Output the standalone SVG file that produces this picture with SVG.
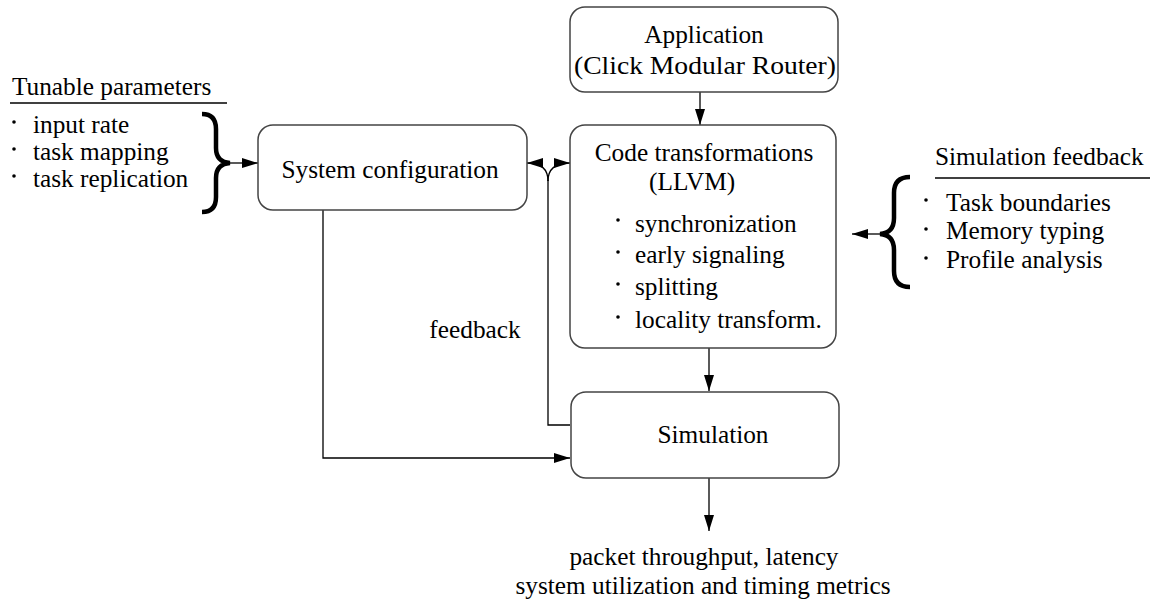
<svg xmlns="http://www.w3.org/2000/svg" width="1158" height="604" viewBox="0 0 1158 604">
<defs>
<style>
.box{fill:#fff;stroke:#444;stroke-width:1.5}
.ln{fill:none;stroke:#000;stroke-width:1.3}
.brace{fill:none;stroke:#000;stroke-width:4.5;stroke-linecap:butt}
.dot{fill:#000}
</style>
<marker id="ah" markerUnits="userSpaceOnUse" markerWidth="18" markerHeight="12" refX="16" refY="5" orient="auto">
<path d="M0,0 L16,5 L0,10 Z" fill="#000"/>
</marker>
</defs>
<rect width="1158" height="604" fill="#fff"/>

<g id="connectors">
<line class="ln" x1="700" y1="92" x2="700" y2="125" marker-end="url(#ah)"/>
<line class="ln" x1="709" y1="348" x2="709" y2="391" marker-end="url(#ah)"/>
<line class="ln" x1="709" y1="478" x2="709" y2="531" marker-end="url(#ah)"/>
<path class="ln" d="M323,210 L323,458 L570,458" marker-end="url(#ah)"/>
<path class="ln" d="M570,425 L548,425 L548,180"/>
<path class="ln" d="M548,181 C548,169 541,163 527,163" marker-end="url(#ah)"/>
<path class="ln" d="M548,181 C548,169 555,163 570,163" marker-end="url(#ah)"/>
<line class="ln" x1="230" y1="163" x2="258" y2="163" marker-end="url(#ah)"/>
<line class="ln" x1="880" y1="234" x2="852" y2="234" marker-end="url(#ah)"/>
</g>

<g id="application">
<rect class="box" x="570" y="7" width="268" height="85" rx="15"/>
<text font-family="Liberation Serif" font-size="25.3" text-anchor="middle" x="704" y="43">Application</text>
<text font-family="Liberation Serif" font-size="25.3" text-anchor="middle" x="705" y="74" textLength="262" lengthAdjust="spacingAndGlyphs">(Click Modular Router)</text>
</g>

<g id="system-configuration">
<rect class="box" x="258" y="125" width="269" height="85" rx="15"/>
<text font-family="Liberation Serif" font-size="25.3" text-anchor="middle" x="390" y="178">System configuration</text>
</g>

<g id="code-transformations">
<rect class="box" x="570" y="125" width="266" height="223" rx="15"/>
<text font-family="Liberation Serif" font-size="25.3" text-anchor="middle" x="704" y="161">Code transformations</text>
<text font-family="Liberation Serif" font-size="25.3" x="649" y="190">(LLVM)</text>
<circle class="dot" cx="618" cy="220" r="1.8"/>
<text font-family="Liberation Serif" font-size="25.3" x="635" y="232">synchronization</text>
<circle class="dot" cx="618" cy="252" r="1.8"/>
<text font-family="Liberation Serif" font-size="25.3" x="635" y="263">early signaling</text>
<circle class="dot" cx="618" cy="284" r="1.8"/>
<text font-family="Liberation Serif" font-size="25.3" x="635" y="295">splitting</text>
<circle class="dot" cx="618" cy="317" r="1.8"/>
<text font-family="Liberation Serif" font-size="25.3" x="635" y="328">locality transform.</text>
</g>

<g id="simulation">
<rect class="box" x="571" y="392" width="268" height="86" rx="15"/>
<text font-family="Liberation Serif" font-size="25.3" text-anchor="middle" x="713" y="443">Simulation</text>
</g>

<g id="tunable-parameters">
<text font-family="Liberation Serif" font-size="25.3" x="12" y="95">Tunable parameters</text>
<line x1="10" y1="103" x2="227" y2="103" stroke="#000" stroke-width="1.3"/>
<circle class="dot" cx="14" cy="122" r="1.8"/>
<text font-family="Liberation Serif" font-size="25.3" x="33" y="133">input rate</text>
<circle class="dot" cx="14" cy="149" r="1.8"/>
<text font-family="Liberation Serif" font-size="25.3" x="33" y="160">task mapping</text>
<circle class="dot" cx="14" cy="176" r="1.8"/>
<text font-family="Liberation Serif" font-size="25.3" x="33" y="187">task replication</text>
<path class="brace" d="M202,114 Q216,114 216,129 L216,148 Q216,162 230,163 Q216,164 216,178 L216,197 Q216,212 202,212"/>
</g>

<g id="simulation-feedback">
<text font-family="Liberation Serif" font-size="25.3" x="935" y="165">Simulation feedback</text>
<line x1="935" y1="178" x2="1150" y2="178" stroke="#000" stroke-width="1.3"/>
<circle class="dot" cx="926" cy="200" r="1.8"/>
<text font-family="Liberation Serif" font-size="25.3" x="946" y="211">Task boundaries</text>
<circle class="dot" cx="926" cy="229" r="1.8"/>
<text font-family="Liberation Serif" font-size="25.3" x="946" y="239">Memory typing</text>
<circle class="dot" cx="926" cy="258" r="1.8"/>
<text font-family="Liberation Serif" font-size="25.3" x="946" y="268">Profile analysis</text>
<path class="brace" d="M910,177 Q894,177 894,193 L894,218 Q894,233 880,234 Q894,235 894,250 L894,271 Q894,287 910,287"/>
</g>

<g id="labels">
<text font-family="Liberation Serif" font-size="25.3" text-anchor="middle" x="475" y="338">feedback</text>
<text font-family="Liberation Serif" font-size="25.3" text-anchor="middle" x="704" y="565">packet throughput, latency</text>
<text font-family="Liberation Serif" font-size="25.3" text-anchor="middle" x="703" y="594">system utilization and timing metrics</text>
</g>
</svg>
